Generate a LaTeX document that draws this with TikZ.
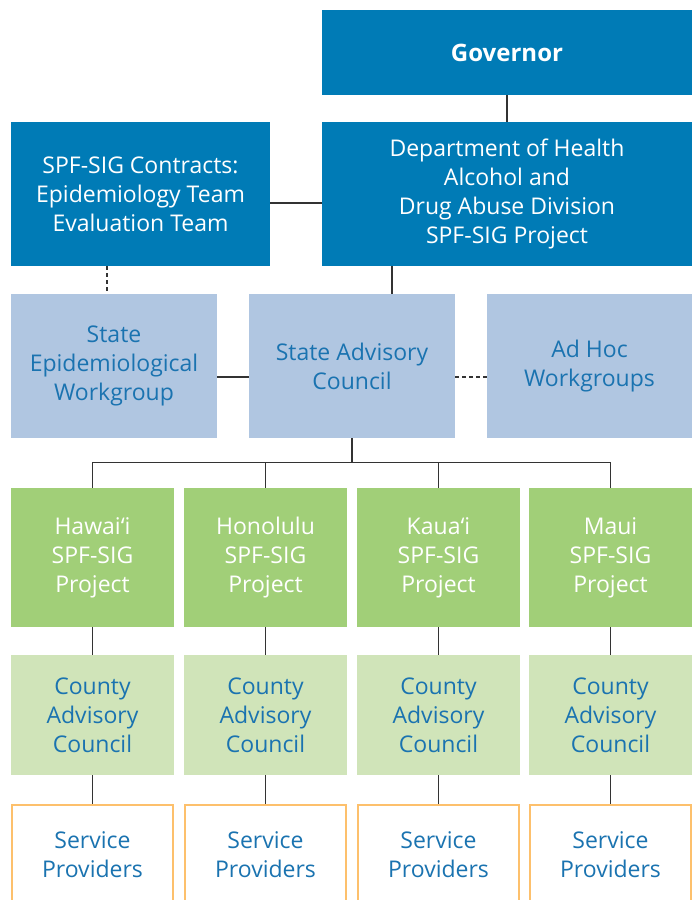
\documentclass[tikz,border=0pt]{standalone}
\usepackage{fontspec}
\setmainfont{Open Sans}
\definecolor{topblue}{HTML}{007BB6}
\definecolor{paleblue}{HTML}{B0C6E1}
\definecolor{textblue}{HTML}{1A73B0}
\definecolor{projgreen}{HTML}{A1CF78}
\definecolor{palegreen}{HTML}{D0E4B9}
\definecolor{provorange}{HTML}{FDC06C}
\definecolor{linegray}{HTML}{333333}

\begin{document}
\begin{tikzpicture}[
  x=1pt, y=-1pt,
  every node/.style={inner sep=0pt, align=center, font=\fontsize{23}{29}\selectfont},
  dark/.style={fill=topblue, text=white, minimum height=144},
  light/.style={fill=paleblue, text=textblue, minimum width=206, minimum height=144},
  project/.style={fill=projgreen, text=white, minimum width=163, minimum height=139},
  county/.style={fill=palegreen, text=textblue, minimum width=163, minimum height=120},
  provider/.style={draw=provorange, line width=2pt, fill=white, text=textblue, minimum width=161, minimum height=100},
  link/.style={draw=linegray, line width=1.2pt}
]
\useasboundingbox (0,0) rectangle (700,900);

% state level
\node[dark, minimum width=370, minimum height=85, font=\fontsize{24}{29}\bfseries] (gov) at (507,52.5) {Governor};
\node[dark, minimum width=370] (doh) at (507,194) {Department of Health\\Alcohol and\\Drug Abuse Division\\SPF-SIG Project};
\node[dark, minimum width=259] (contracts) at (140.5,194) {SPF-SIG Contracts:\\Epidemiology Team\\Evaluation Team};
\node[light] (sew) at (114,366) {State\\Epidemiological\\Workgroup};
\node[light] (sac) at (352,366) {State Advisory\\Council};
\node[light, minimum width=205] (adhoc) at (589.5,366) {Ad Hoc\\Workgroups};

% county level
\foreach \n/\x/\name in {haw/92.5/Hawai‘i, hon/265.5/Honolulu, kau/438.5/Kaua‘i, mau/610.5/Maui} {
  \node[project] (\n) at (\x,557.5) {\name\\SPF-SIG\\Project};
  \node[county] (\n c) at (\x,715) {County\\Advisory\\Council};
  \node[provider] (\n p) at (\x,855) {Service\\Providers};
  \draw[link] (\n) -- (\n c);
  \draw[link] (\n c) -- (\n p.north);
  \draw[link] (\n.north) -- ++(0,-25) -| (sac.south);
}

\coordinate (epi) at (107,0);
\draw[link] (gov) -- (doh);
\draw[link] ([yshift=-9pt]contracts.east) -- ([yshift=-9pt]doh.west);
\draw[link] ([xshift=40pt]sac.north) -- ([xshift=40pt]sac.north |- doh.south);
\draw[link, dash pattern=on 4pt off 3pt] (contracts.south -| epi) -- (sew.north -| epi);
\draw[link] ([yshift=-11pt]sew.east) -- ([yshift=-11pt]sac.west);
\draw[link, dash pattern=on 4pt off 3pt] ([yshift=-11pt]sac.east) -- ([yshift=-11pt]adhoc.west);
\end{tikzpicture}
\end{document}
